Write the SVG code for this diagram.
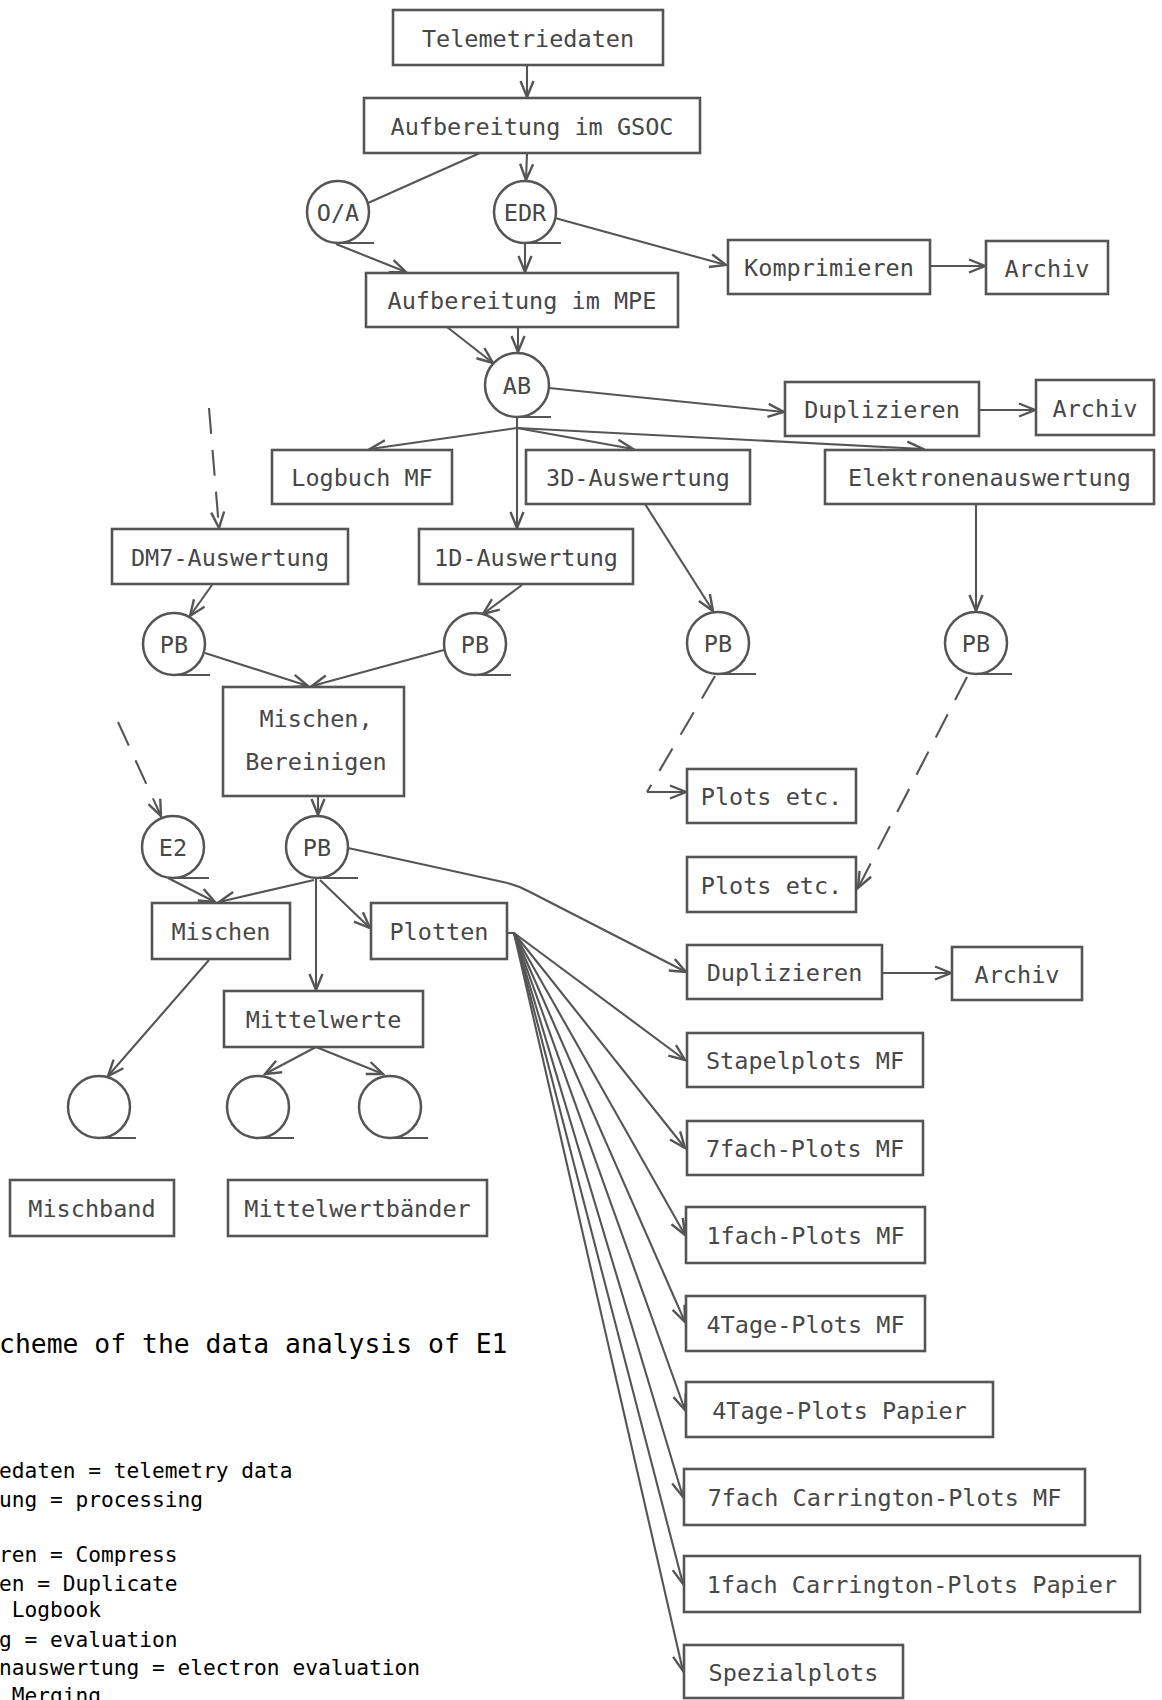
<svg xmlns="http://www.w3.org/2000/svg" width="1162" height="1700" viewBox="0 0 1162 1700">
<style>
.box{fill:#fff;stroke:#555;stroke-width:2.6}
.tp{fill:#fff;stroke:#555;stroke-width:2.5}
.lbl{font-family:"DejaVu Sans Mono","Liberation Mono",monospace;font-size:23.5px;fill:#474747;text-anchor:middle}
.c{fill:none;stroke:#555;stroke-width:2.1;marker-end:url(#ah)}
.n{fill:none;stroke:#555;stroke-width:2.1}
.d{stroke-dasharray:26 16}
.leg{font-family:"DejaVu Sans Mono","Liberation Mono",monospace;fill:#000;font-size:21.2px}
.ttl{font-family:"DejaVu Sans Mono","Liberation Mono",monospace;fill:#000;font-size:26.4px}
</style>
<defs>
<marker id="ah" viewBox="-19 -9 21 18" refX="0" refY="0" markerWidth="21" markerHeight="18" markerUnits="userSpaceOnUse" orient="auto">
<path d="M-16,-6.5 L0,0 L-16,6.5" fill="none" stroke="#555" stroke-width="2.4"/>
</marker>
</defs>
<rect width="1162" height="1700" fill="#fff"/>

<g id="connectors">
<path class="c" d="M527,65 L527,97"/>
<path class="n" d="M480,153 L368,203"/>
<path class="c" d="M527,153 L526,180"/>
<path class="c" d="M336,244 L406,272"/>
<path class="c" d="M525,243 L525,272"/>
<path class="c" d="M555,218 L726,265"/>
<path class="c" d="M930,266 L985,266"/>
<path class="c" d="M518,327 L518,352"/>
<path class="c" d="M447,327 L493,363"/>
<path class="c" d="M549,388 L784,412"/>
<path class="c" d="M979,410 L1035,410"/>
<path class="n" d="M517,417 L517,428"/>
<path class="c" d="M517,428 L370,449"/>
<path class="c" d="M517,428 L517,528"/>
<path class="c" d="M517,428 L633,449"/>
<path class="c" d="M517,428 L923,449"/>
<path class="c d" d="M209,408 L219,528"/>
<path class="c" d="M212,585 L190,616"/>
<path class="c" d="M522,585 L483,614"/>
<path class="c" d="M645,504 L713,611"/>
<path class="c" d="M976,504 L976,611"/>
<path class="c" d="M205,653 L308,686"/>
<path class="c" d="M444,650 L312,686"/>
<path class="n d" d="M715,676 L647,792"/>
<path class="c" d="M647,792 L686,792"/>
<path class="c d" d="M967,677 L858,888"/>
<path class="c d" d="M118,722 L161,816"/>
<path class="c" d="M318,796 L318,815"/>
<path class="c" d="M168,878 L215,902"/>
<path class="c" d="M314,880 L219,902"/>
<path class="c" d="M320,880 L370,928"/>
<path class="c" d="M316,878 L316,990"/>
<path class="c" d="M348,848 L503,882 Q517,885 530,892 L686,972"/>
<path class="c" d="M882,973 L951,973"/>
<path class="c" d="M209,960 L108,1076"/>
<path class="c" d="M316,1047 L265,1074"/>
<path class="c" d="M316,1047 L383,1074"/>
<path class="n" d="M507,933 L514,933"/>
<path class="c" d="M514,933 L685,1060"/>
<path class="c" d="M514,933 L685,1148"/>
<path class="c" d="M514,933 L685,1235"/>
<path class="c" d="M514,933 L685,1322"/>
<path class="c" d="M514,933 L685,1410"/>
<path class="c" d="M514,933 L683,1497"/>
<path class="c" d="M514,933 L683,1584"/>
<path class="c" d="M514,933 L683,1671"/>
</g>

<g id="telemetriedaten"><rect class="box" x="393" y="10" width="270" height="55"/><text class="lbl" x="528" y="46.5">Telemetriedaten</text></g>
<g id="gsoc"><rect class="box" x="364" y="98" width="336" height="55"/><text class="lbl" x="532" y="134.5">Aufbereitung im GSOC</text></g>
<g id="oa"><circle class="tp" cx="338" cy="212" r="31"/><line class="n" x1="338" y1="243" x2="374" y2="243"/><text class="lbl" x="338" y="220.5">O/A</text></g>
<g id="edr"><circle class="tp" cx="525" cy="212" r="31"/><line class="n" x1="525" y1="243" x2="561" y2="243"/><text class="lbl" x="525" y="220.5">EDR</text></g>
<g id="komprimieren"><rect class="box" x="728" y="240" width="202" height="54"/><text class="lbl" x="829" y="276">Komprimieren</text></g>
<g id="archiv1"><rect class="box" x="986" y="241" width="122" height="53"/><text class="lbl" x="1047" y="276.5">Archiv</text></g>
<g id="mpe"><rect class="box" x="366" y="273" width="312" height="54"/><text class="lbl" x="522" y="309">Aufbereitung im MPE</text></g>
<g id="ab"><circle class="tp" cx="517" cy="385" r="32"/><line class="n" x1="517" y1="417" x2="551" y2="417"/><text class="lbl" x="517" y="393.5">AB</text></g>
<g id="duplizieren1"><rect class="box" x="785" y="382" width="194" height="54"/><text class="lbl" x="882" y="418">Duplizieren</text></g>
<g id="archiv2"><rect class="box" x="1036" y="380" width="118" height="55"/><text class="lbl" x="1095" y="416.5">Archiv</text></g>
<g id="logbuch"><rect class="box" x="272" y="450" width="180" height="54"/><text class="lbl" x="362" y="486">Logbuch MF</text></g>
<g id="aus3d"><rect class="box" x="526" y="450" width="224" height="54"/><text class="lbl" x="638" y="486">3D-Auswertung</text></g>
<g id="elektronen"><rect class="box" x="825" y="450" width="329" height="54"/><text class="lbl" x="989.5" y="486">Elektronenauswertung</text></g>
<g id="dm7"><rect class="box" x="112" y="529" width="236" height="55"/><text class="lbl" x="230" y="565.5">DM7-Auswertung</text></g>
<g id="aus1d"><rect class="box" x="419" y="529" width="214" height="55"/><text class="lbl" x="526" y="565.5">1D-Auswertung</text></g>
<g id="pb1"><circle class="tp" cx="174" cy="644" r="31"/><line class="n" x1="174" y1="675" x2="210" y2="675"/><text class="lbl" x="174" y="652.5">PB</text></g>
<g id="pb2"><circle class="tp" cx="475" cy="644" r="31"/><line class="n" x1="475" y1="675" x2="511" y2="675"/><text class="lbl" x="475" y="652.5">PB</text></g>
<g id="pb3"><circle class="tp" cx="718" cy="643" r="31"/><line class="n" x1="718" y1="674" x2="756" y2="674"/><text class="lbl" x="718" y="651.5">PB</text></g>
<g id="pb4"><circle class="tp" cx="976" cy="643" r="31"/><line class="n" x1="976" y1="674" x2="1012" y2="674"/><text class="lbl" x="976" y="651.5">PB</text></g>
<g id="mischen-bereinigen"><rect class="box" x="223" y="687" width="181" height="109"/><text class="lbl" x="316" y="727">Mischen,</text><text class="lbl" x="316" y="770">Bereinigen</text></g>
<g id="plots1"><rect class="box" x="687" y="769" width="169" height="54"/><text class="lbl" x="771.5" y="805">Plots etc.</text></g>
<g id="e2"><circle class="tp" cx="173" cy="847" r="31"/><line class="n" x1="173" y1="878" x2="209" y2="878"/><text class="lbl" x="173" y="855.5">E2</text></g>
<g id="pb5"><circle class="tp" cx="317" cy="847" r="31"/><line class="n" x1="317" y1="878" x2="358" y2="878"/><text class="lbl" x="317" y="855.5">PB</text></g>
<g id="plots2"><rect class="box" x="687" y="857" width="169" height="55"/><text class="lbl" x="771.5" y="893.5">Plots etc.</text></g>
<g id="mischen"><rect class="box" x="152" y="903" width="138" height="56"/><text class="lbl" x="221" y="940">Mischen</text></g>
<g id="plotten"><rect class="box" x="371" y="903" width="136" height="56"/><text class="lbl" x="439" y="940">Plotten</text></g>
<g id="duplizieren2"><rect class="box" x="687" y="945" width="195" height="54"/><text class="lbl" x="784.5" y="981">Duplizieren</text></g>
<g id="archiv3"><rect class="box" x="952" y="947" width="130" height="53"/><text class="lbl" x="1017" y="982.5">Archiv</text></g>
<g id="mittelwerte"><rect class="box" x="224" y="991" width="199" height="56"/><text class="lbl" x="323.5" y="1028">Mittelwerte</text></g>
<g id="tape-mischband"><circle class="tp" cx="99" cy="1107" r="31"/><line class="n" x1="99" y1="1138" x2="136" y2="1138"/></g>
<g id="tape-mittel1"><circle class="tp" cx="258" cy="1107" r="31"/><line class="n" x1="258" y1="1138" x2="294" y2="1138"/></g>
<g id="tape-mittel2"><circle class="tp" cx="390" cy="1107" r="31"/><line class="n" x1="390" y1="1138" x2="428" y2="1138"/></g>
<g id="mischband"><rect class="box" x="10" y="1180" width="164" height="56"/><text class="lbl" x="92" y="1217">Mischband</text></g>
<g id="mittelwertbaender"><rect class="box" x="228" y="1180" width="259" height="56"/><text class="lbl" x="357.5" y="1217">Mittelwertbänder</text></g>
<g id="stapelplots"><rect class="box" x="687" y="1033" width="236" height="54"/><text class="lbl" x="805" y="1069">Stapelplots MF</text></g>
<g id="fach7"><rect class="box" x="687" y="1121" width="236" height="54"/><text class="lbl" x="805" y="1157">7fach-Plots MF</text></g>
<g id="fach1"><rect class="box" x="686" y="1207" width="239" height="56"/><text class="lbl" x="805.5" y="1244">1fach-Plots MF</text></g>
<g id="tage4mf"><rect class="box" x="686" y="1296" width="239" height="55"/><text class="lbl" x="805.5" y="1332.5">4Tage-Plots MF</text></g>
<g id="tage4papier"><rect class="box" x="686" y="1382" width="307" height="55"/><text class="lbl" x="839.5" y="1418.5">4Tage-Plots Papier</text></g>
<g id="carr7"><rect class="box" x="684" y="1469" width="401" height="56"/><text class="lbl" x="884.5" y="1506">7fach Carrington-Plots MF</text></g>
<g id="carr1"><rect class="box" x="684" y="1556" width="456" height="56"/><text class="lbl" x="912" y="1593">1fach Carrington-Plots Papier</text></g>
<g id="spezialplots"><rect class="box" x="684" y="1645" width="219" height="53"/><text class="lbl" x="793.5" y="1680.5">Spezialplots</text></g>

<g id="legend">
<text class="ttl" x="-1" y="1353">cheme of the data analysis of E1</text>
<text class="leg" x="-1" y="1478">edaten = telemetry data</text>
<text class="leg" x="-1" y="1507">ung = processing</text>
<text class="leg" x="-1" y="1562">ren = Compress</text>
<text class="leg" x="-1" y="1591">en = Duplicate</text>
<text class="leg" x="-1" y="1617" xml:space="preserve"> Logbook</text>
<text class="leg" x="-1" y="1647">g = evaluation</text>
<text class="leg" x="-1" y="1675">nauswertung = electron evaluation</text>
<text class="leg" x="-1" y="1703" xml:space="preserve"> Merging</text>
</g>
</svg>
